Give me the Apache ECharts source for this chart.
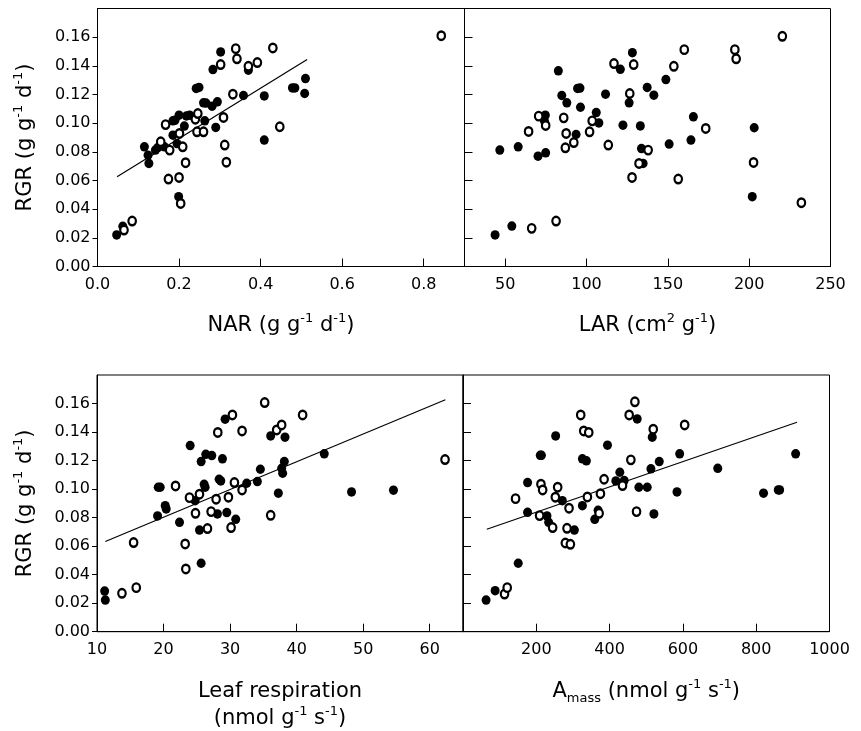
<!DOCTYPE html>
<html>
<head>
<meta charset="utf-8">
<script src="https://cdn.jsdelivr.net/npm/echarts@6.0.0/dist/echarts.min.js"></script>
<style>
html, body { margin: 0; padding: 0; background: #fff; }
#chart { width: 861px; height: 731px; }
</style>
</head>
<body>
<div id="chart"></div>
<script>
// RGR against NAR, LAR, leaf respiration and Amass; filled and open symbols are the two groups
var narFilled = [
  [0.047,0.022],[0.062,0.028],[0.115,0.0835],[0.124,0.0777],[0.126,0.0719],[0.142,0.0812],[0.148,0.083],
  [0.164,0.0835],[0.185,0.1016],[0.19,0.102],[0.2,0.1056],[0.185,0.0916],[0.195,0.0858],[0.213,0.098],
  [0.218,0.105],[0.226,0.1056],[0.242,0.1242],[0.249,0.1249],[0.26,0.1142],[0.266,0.114],[0.263,0.1016],
  [0.281,0.1118],[0.294,0.1149],[0.29,0.097],[0.283,0.1374],[0.302,0.1497],[0.358,0.1193],[0.199,0.0487],
  [0.37,0.137],[0.409,0.119],[0.409,0.0882],[0.478,0.1246],[0.484,0.1246],[0.51,0.1311],[0.508,0.1207]
];
var narOpen = [
  [0.065,0.0254],[0.085,0.0317],[0.155,0.087],[0.177,0.0812],[0.167,0.099],[0.201,0.0928],[0.209,0.0835],
  [0.24,0.1028],[0.246,0.1067],[0.244,0.094],[0.26,0.094],[0.302,0.1409],[0.339,0.152],[0.342,0.1449],
  [0.332,0.1202],[0.309,0.104],[0.312,0.0847],[0.316,0.0728],[0.216,0.0724],[0.174,0.061],[0.2,0.0621],
  [0.204,0.044],[0.37,0.1397],[0.392,0.1423],[0.43,0.1525],[0.447,0.0975],[0.843,0.161]
];
var narFit = [[0.048,0.0626],[0.514,0.1444]];

var larFilled = [
  [43.8,0.022],[54.1,0.0282],[46.7,0.0812],[58,0.0835],[70.2,0.077],[74.9,0.0793],[74.7,0.1056],[74.1,0.1016],
  [82.7,0.1365],[84.8,0.1193],[87.9,0.1142],[94.5,0.1242],[96,0.1245],[96.3,0.1111],[93.6,0.0921],[111.7,0.1202],
  [106,0.1074],[107.6,0.1002],[120.8,0.1376],[128.2,0.1492],[126.2,0.1142],[122.4,0.0986],[133.1,0.0981],
  [133.8,0.0823],[134.8,0.0719],[137.3,0.1249],[141.4,0.1195],[148.8,0.1304],[150.8,0.0854],[165.7,0.1044],
  [164.2,0.0882],[203.1,0.0968],[201.9,0.0487]
];
var larOpen = [
  [66.3,0.0266],[81.3,0.0317],[64.4,0.0942],[70.6,0.1049],[74.9,0.0984],[86,0.1037],[87.5,0.0928],[87,0.0828],
  [92.2,0.0865],[103.5,0.1016],[101.9,0.094],[113.4,0.0847],[116.9,0.1416],[129,0.1409],[126.6,0.1207],
  [137.9,0.0812],[132.3,0.0719],[128,0.0621],[153.7,0.1397],[160.1,0.1513],[156.4,0.061],[173.3,0.0963],
  [191.2,0.1513],[192,0.1449],[202.7,0.0726],[220.4,0.1606],[232.1,0.0445]
];

var respFilled = [
  [11.15,0.0285],[11.25,0.0222],[19.2,0.1013],[19.5,0.1013],[20.25,0.0884],[20.4,0.0861],[19.1,0.0812],
  [22.4,0.0767],[25.65,0.048],[24,0.1305],[25.65,0.1193],[26.35,0.1244],[27.25,0.1235],[28.85,0.1212],
  [29.25,0.149],[36.1,0.1373],[38.25,0.1364],[38.15,0.1193],[37.75,0.1146],[37.9,0.1111],[34.55,0.1139],
  [34.1,0.1053],[32.5,0.1041],[28.35,0.1069],[28.6,0.1057],[26.1,0.1034],[26.25,0.1013],[24.75,0.0919],
  [28.1,0.0826],[29.5,0.0835],[30.85,0.0788],[25.4,0.0713],[37.25,0.0971],[44.15,0.1247],[48.25,0.098],
  [54.55,0.0992]
];
var respOpen = [
  [13.75,0.0269],[15.9,0.0309],[15.5,0.0625],[21.8,0.1022],[23.25,0.0615],[23.35,0.044],[28.15,0.1397],
  [30.35,0.152],[31.8,0.1408],[35.2,0.1607],[40.9,0.152],[37,0.1415],[37.75,0.145],[30.65,0.1046],
  [31.8,0.0994],[23.9,0.094],[25.4,0.0964],[27.9,0.0929],[29.75,0.0943],[24.8,0.083],[27.15,0.0842],
  [30.15,0.073],[26.6,0.0723],[36.1,0.0816],[62.3,0.1207]
];
var respFit = [[11.25,0.0632],[62.35,0.1626]];

var amassFilled = [
  [63,0.0222],[87.7,0.0288],[150.7,0.048],[176.2,0.1046],[176.2,0.0837],[210.8,0.1237],[214,0.1237],
  [229.1,0.0812],[233.7,0.0767],[252.8,0.1373],[271,0.0919],[303.9,0.0713],[325.8,0.1212],[336.7,0.1198],
  [325.8,0.0884],[359.5,0.0788],[368.6,0.0851],[394.2,0.1308],[427.9,0.1118],[417,0.1057],[439.8,0.106],
  [479.9,0.1013],[502.7,0.1013],[475.3,0.1492],[520.9,0.0826],[512.7,0.1142],[535.5,0.1193],[516.4,0.1364],
  [591.2,0.1247],[583.9,0.098],[695.1,0.1146],[820,0.0971],[860.2,0.0994],[864,0.0994],[907.6,0.1247]
];
var amassOpen = [
  [113.3,0.0264],[120.6,0.0309],[143.4,0.0933],[212.7,0.1034],[217.3,0.0994],[209,0.0814],[244.6,0.073],
  [258.3,0.1013],[252,0.0943],[289.3,0.0866],[283.8,0.0725],[279.3,0.0622],[293,0.0613],[321.2,0.152],
  [329.4,0.1408],[343.1,0.1397],[339.4,0.0945],[375,0.0968],[371.4,0.083],[385,0.1069],[435.2,0.1025],
  [458,0.1205],[453.4,0.152],[469,0.1612],[473.5,0.0842],[519.1,0.142],[604.8,0.145]
];
var amassFit = [[64.9,0.0718],[911.3,0.1469]];

var rgrTicks = [0, 0.02, 0.04, 0.06, 0.08, 0.10, 0.12, 0.14, 0.16];
var narLabels = [0, 0.2, 0.4, 0.6, 0.8];
var larLabels = [50, 100, 150, 200, 250];
var respLabels = [10, 20, 30, 40, 50, 60];
var amassLabels = [200, 400, 600, 800, 1000];

var font = 'DejaVu Sans';
var rich = {
  n: { fontFamily: font, fontSize: 21, color: '#000', lineHeight: 27 },
  s: { fontFamily: font, fontSize: 13, color: '#000', lineHeight: 13, verticalAlign: 'top' },
  b: { fontFamily: font, fontSize: 13, color: '#000', lineHeight: 13, verticalAlign: 'bottom' }
};

function xAxis(grid, min, max, labels, ticks, digits, name, gap) {
  return {
    type: 'value', gridIndex: grid, min: min, max: max,
    axisLine: { show: true, lineStyle: { color: '#000', width: 1 } },
    axisTick: { show: true, inside: true, length: 8, customValues: ticks, lineStyle: { color: '#000', width: 1 } },
    axisLabel: {
      customValues: labels, margin: 10, color: '#000', fontFamily: font, fontSize: 16,
      formatter: function (v) { return v.toFixed(digits); }
    },
    splitLine: { show: false },
    name: name, nameLocation: 'middle', nameGap: gap,
    nameTextStyle: { rich: rich }
  };
}

function yAxis(grid, left) {
  var ax = {
    type: 'value', gridIndex: grid, min: 0, max: 0.18,
    axisLine: { show: true, lineStyle: { color: '#000', width: 1 } },
    splitLine: { show: false }
  };
  if (left) {
    ax.axisTick = { show: true, inside: false, length: 5, customValues: rgrTicks, lineStyle: { color: '#000' } };
    ax.axisLabel = {
      customValues: rgrTicks, margin: 7, color: '#000', fontFamily: font, fontSize: 16,
      formatter: function (v) { return v.toFixed(2); }
    };
    ax.name = '{n|RGR (g g}{s|-1}{n| d}{s|-1}{n|)}';
    ax.nameLocation = 'middle';
    ax.nameGap = 58;
    ax.nameTextStyle = { rich: rich };
  } else {
    ax.axisTick = { show: true, inside: true, length: 8, customValues: rgrTicks.slice(1), lineStyle: { color: '#000' } };
    ax.axisLabel = { show: false };
  }
  return ax;
}

function dots(idx, data, open) {
  return {
    type: 'scatter', xAxisIndex: idx, yAxisIndex: idx, data: data,
    symbol: 'circle',
    symbolSize: open ? [7.5, 8.5] : [9, 9.5],
    itemStyle: open
      ? { color: '#fff', borderColor: '#000', borderWidth: 2.3, opacity: 1 }
      : { color: '#000', opacity: 1 }
  };
}

function fit(idx, data) {
  return {
    type: 'line', xAxisIndex: idx, yAxisIndex: idx, data: data,
    showSymbol: false, symbol: 'none', z: 1,
    lineStyle: { color: '#000', width: 1.2 }
  };
}

var gridStyle = { show: true, borderColor: '#000', borderWidth: 1, backgroundColor: 'transparent' };

var option = {
  animation: false,
  backgroundColor: '#fff',
  grid: [
    Object.assign({ left: 97.5, top: 8.5, width: 367, height: 258 }, gridStyle),
    Object.assign({ left: 464.5, top: 8.5, width: 366, height: 258 }, gridStyle),
    Object.assign({ left: 97, top: 375, width: 366, height: 256.7 }, gridStyle),
    Object.assign({ left: 463, top: 375, width: 366.5, height: 256.7 }, gridStyle)
  ],
  xAxis: [
    xAxis(0, 0, 0.9, narLabels, [0.2, 0.4, 0.6, 0.8], 1, '{n|NAR (g g}{s|-1}{n| d}{s|-1}{n|)}', 46),
    xAxis(1, 25, 250, larLabels, [50, 100, 150, 200], 0, '{n|LAR (cm}{s|2}{n| g}{s|-1}{n|)}', 46),
    xAxis(2, 10, 65, respLabels, [20, 30, 40, 50, 60], 0,
      '{n|Leaf respiration}\n{n|(nmol g}{s|-1}{n| s}{s|-1}{n|)}', 46),
    xAxis(3, 0, 1000, amassLabels, [200, 400, 600, 800], 0,
      '{n|A}{b|mass}{n| (nmol g}{s|-1}{n| s}{s|-1}{n|)}', 46)
  ],
  yAxis: [yAxis(0, true), yAxis(1, false), yAxis(2, true), yAxis(3, false)],
  series: [
    fit(0, narFit), dots(0, narFilled, false), dots(0, narOpen, true),
    dots(1, larFilled, false), dots(1, larOpen, true),
    fit(2, respFit), dots(2, respFilled, false), dots(2, respOpen, true),
    fit(3, amassFit), dots(3, amassFilled, false), dots(3, amassOpen, true)
  ]
};

var chart = echarts.init(document.getElementById('chart'));
chart.setOption(option);
</script>
</body>
</html>
